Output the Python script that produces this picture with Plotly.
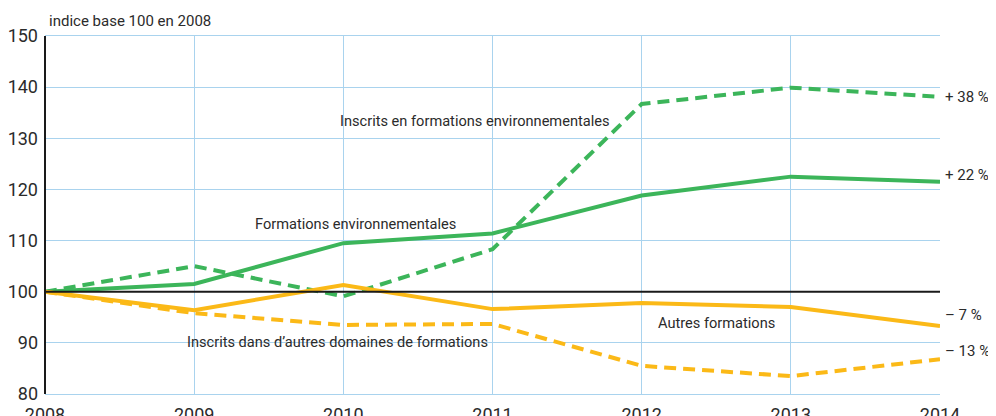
import plotly.graph_objects as go

years = [2008, 2009, 2010, 2011, 2012, 2013, 2014]
inscrits_env = [100, 105.0, 99.1, 108.3, 136.7, 139.9, 138.1]
formations_env = [100, 101.5, 109.5, 111.4, 118.8, 122.5, 121.5]
autres_formations = [100, 96.4, 101.3, 96.6, 97.8, 97.0, 93.3]
inscrits_autres = [100, 95.8, 93.5, 93.7, 85.5, 83.5, 86.8]

y_ticks = [80, 90, 100, 110, 120, 130, 140, 150]
end_labels = ["+ 38 %", "+ 22 %", "\u2013 7 %", "\u2013 13 %"]

GREEN = "#3cb55a"
YELLOW = "#fbb917"
GRID = "#a9d3ee"
TXT = "#2b2b2b"
FONT = "Roboto, sans-serif"

fig = go.Figure()

series = [
    (inscrits_env, GREEN, "12px,7px"),
    (formations_env, GREEN, "solid"),
    (autres_formations, YELLOW, "solid"),
    (inscrits_autres, YELLOW, "12px,7px"),
]
for vals, col, dash in series:
    fig.add_trace(go.Scatter(x=years, y=vals, mode="lines",
                             line=dict(color=col, width=4, dash=dash),
                             showlegend=False, cliponaxis=False))

fig.add_shape(type="line", xref="paper", x0=0, x1=1, yref="y", y0=100, y1=100,
              line=dict(color="#1a1a1a", width=2), layer="above")

# end labels
finals = [inscrits_env[-1], formations_env[-1], autres_formations[-1], inscrits_autres[-1]]
label_y = [finals[0], finals[1] + 1.3, finals[2] + 2.2, finals[3] + 1.6]
for txt, yv in zip(end_labels, label_y):
    fig.add_annotation(x=1, xref="paper", y=yv, yref="y", text=txt, showarrow=False,
                       xanchor="left", xshift=3, font=dict(size=15, color=TXT, family=FONT))

inline = [
    ("Inscrits en formations environnementales", 2010.88, 133.3),
    ("Formations environnementales", 2010.08, 113.3),
    ("Autres formations", 2012.5, 93.9),
    ("Inscrits dans d\u2019autres domaines de formations", 2009.96, 90.1),
]
for txt, xv, yv in inline:
    fig.add_annotation(x=xv, y=yv, text=txt, showarrow=False,
                       font=dict(size=14.6, color=TXT, family=FONT))

fig.add_annotation(x=2008.57, xref="x", y=1, yref="paper", text="indice base 100 en 2008",
                   showarrow=False, xanchor="center", yanchor="bottom", yshift=4,
                   font=dict(size=15, color=TXT, family=FONT))

fig.update_xaxes(range=[2008, 2014], tickvals=years, ticktext=[str(y) for y in years],
                 showgrid=True, gridcolor=GRID, gridwidth=1, zeroline=False,
                 showline=True, linecolor=GRID, linewidth=1, mirror=True,
                 ticks="", ticklabelstandoff=4, automargin=False,
                 tickfont=dict(size=18, color=TXT, family=FONT))
fig.update_yaxes(range=[80, 150], tickvals=y_ticks, showgrid=True, gridcolor=GRID,
                 gridwidth=1, zeroline=False, showline=False, ticks="", automargin=False,
                 ticklabelstandoff=6,
                 tickfont=dict(size=18, color=TXT, family=FONT))
fig.add_shape(type="line", xref="paper", x0=0, x1=0, yref="paper", y0=0, y1=1,
              line=dict(color="#1a1a1a", width=2), layer="above")

fig.update_layout(width=988, height=408, margin=dict(l=37, r=56, t=28, b=22, autoexpand=False),
                  paper_bgcolor="white", plot_bgcolor="white",
                  font=dict(family=FONT, color=TXT))

fig.write_html("out.html")
